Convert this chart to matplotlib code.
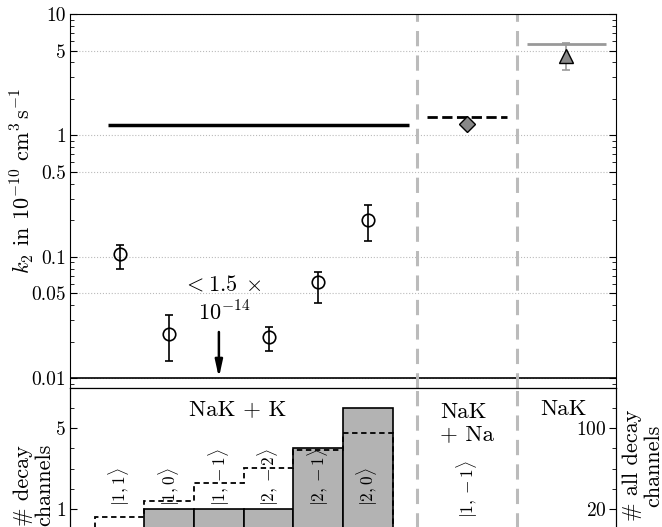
import matplotlib
matplotlib.use("Agg")
import matplotlib.pyplot as plt
from matplotlib.ticker import FixedLocator, MultipleLocator, NullFormatter, NullLocator

plt.rcParams["font.family"] = "serif"
plt.rcParams["font.serif"] = ["cmr10", "DejaVu Serif"]
plt.rcParams["mathtext.fontset"] = "cm"
plt.rcParams["axes.formatter.use_mathtext"] = True
plt.rcParams["axes.unicode_minus"] = False

# ============================================
# Data
# ============================================

# NaK + K channels (top panel, measured k2 with asymmetric errors)
chan_x = [1, 2, 4, 5, 6]
chan_k2 = [0.106, 0.023, 0.0218, 0.0618, 0.201]
chan_hi = [0.125, 0.033, 0.0263, 0.0748, 0.267]
chan_lo = [0.0793, 0.0138, 0.0167, 0.0415, 0.135]

# upper limit channel
limit_x = 3
limit_from = 0.024
limit_to = 0.0101

# theory / universal rates
nak_k_rate = 1.22
nak_na_rate = 1.42
nak_na_meas = 1.24
nak_nak_rate = 5.68
nak_nak_meas = 4.52
nak_nak_hi = 5.78
nak_nak_lo = 3.46

# bottom panel
state_labels = [r"$|1,1\rangle$", r"$|1,0\rangle$", r"$|1,-1\rangle$",
                r"$|2,-2\rangle$", r"$|2,-1\rangle$", r"$|2,0\rangle$"]
bin_edges = [0.5, 1.5, 2.5, 3.5, 4.5, 5.5, 6.5]
decay_counts = [0, 1, 1, 1, 4, 6]
all_decay_counts = [12, 28, 46, 61, 78, 95]

# ============================================
# Figure
# ============================================

fig = plt.figure(figsize=(6.62, 5.27), dpi=100)

ax = fig.add_axes([0.1057, 0.2638, 0.8248, 0.7096])
axb = fig.add_axes([0.1057, -0.0038, 0.8248, 0.2676])

# ---------------- top panel ----------------
ax.set_yscale("log")
ax.set_xlim(0, 11)
ax.set_ylim(0.0083, 10)

ax.yaxis.set_major_locator(FixedLocator([0.01, 0.05, 0.1, 0.5, 1, 5, 10]))
ax.set_yticklabels(["0.01", "0.05", "0.1", "0.5", "1", "5", "10"])
ax.yaxis.set_minor_formatter(NullFormatter())
ax.xaxis.set_major_locator(NullLocator())
ax.tick_params(axis="y", which="both", direction="in", right=True, labelsize=14, pad=3)
ax.tick_params(axis="y", which="major", length=5)
ax.tick_params(axis="y", which="minor", length=3)
ax.grid(axis="y", which="major", color="#bbbbbb", linestyle=":", linewidth=0.8)

ax.axhline(0.01, color="black", linewidth=1.2)

ax.hlines(nak_k_rate, 0.77, 6.83, color="black", linewidth=2.5)
ax.hlines(nak_na_rate, 7.2, 8.8, color="black", linewidth=2, linestyle="--")
ax.hlines(nak_nak_rate, 9.2, 10.8, color="#999999", linewidth=2)

err_lo = [k - lo for k, lo in zip(chan_k2, chan_lo)]
err_hi = [hi - k for k, hi in zip(chan_k2, chan_hi)]
ax.errorbar(chan_x, chan_k2, yerr=[err_lo, err_hi], fmt="o", color="black",
            mfc="none", mec="black", ms=9, mew=1.2, elinewidth=1.2,
            capsize=3, capthick=1.2)

ax.plot([8], [nak_na_meas], "D", color="#888888", mec="black", ms=8, mew=1)

ax.errorbar([10], [nak_nak_meas],
            yerr=[[nak_nak_meas - nak_nak_lo], [nak_nak_hi - nak_nak_meas]],
            fmt="none", ecolor="#999999", elinewidth=1.2, capsize=3, capthick=1.2)
ax.plot([10], [nak_nak_meas], "^", color="#888888", mec="black", ms=10, mew=1)

ax.annotate("", xy=(limit_x, limit_to), xytext=(limit_x, limit_from),
            arrowprops=dict(arrowstyle="-|>,head_length=1.0,head_width=0.22",
                            color="black", lw=1.8, shrinkA=0, shrinkB=0))
ax.text(3.08, 0.0596, r"$<1.5\;\times$", ha="center", va="center", fontsize=16)
ax.text(3.1, 0.0345, r"$10^{-14}$", ha="center", va="center", fontsize=16)

ax.set_ylabel(r"$k_2$ in $10^{-10}$ cm$^3\,$s$^{-1}$", fontsize=16)
ax.yaxis.set_label_coords(-0.062, 0.553)

for xv in [7, 9]:
    ax.axvline(xv, color="#bbbbbb", linewidth=2.2, linestyle=(0, (5, 3)))
    axb.axvline(xv, color="#bbbbbb", linewidth=2.2, linestyle=(0, (5, 3)))

# ---------------- bottom panel ----------------
axb.set_xlim(0, 11)
axb.set_ylim(0, 7)
axb.xaxis.set_major_locator(NullLocator())
axb.yaxis.set_major_locator(FixedLocator([1, 5]))
axb.yaxis.set_minor_locator(MultipleLocator(1))
axb.tick_params(axis="y", which="both", direction="in", labelsize=14, pad=3)
axb.tick_params(axis="y", which="major", length=5)
axb.tick_params(axis="y", which="minor", length=3)

for i, c in enumerate(decay_counts):
    if c > 0:
        axb.bar((bin_edges[i] + bin_edges[i + 1]) / 2, c, width=1,
                facecolor="#b3b3b3", edgecolor="black", linewidth=1.2)

axr = axb.twinx()
axr.set_ylim(0, 140)
axr.yaxis.set_major_locator(FixedLocator([20, 100]))
axr.yaxis.set_minor_locator(MultipleLocator(20))
axr.tick_params(axis="y", which="both", direction="in", labelsize=14, pad=-7)
axr.tick_params(axis="y", which="major", length=5)
axr.tick_params(axis="y", which="minor", length=3)
for lab in axr.get_yticklabels():
    lab.set_horizontalalignment("right")
axr.stairs(all_decay_counts, bin_edges, color="black", linewidth=1.3,
           linestyle=(0, (3, 2)), baseline=0)

for i, lab in enumerate(state_labels):
    axb.text(i + 1, 1.15, lab, rotation=90, ha="center", va="bottom", fontsize=12.5)
axb.text(8, 2.0, r"$|1,-1\rangle$", rotation=90, ha="center", va="center", fontsize=12.5)

axb.text(3.38, 5.95, "NaK + K", ha="center", va="center", fontsize=16.5)
axb.text(7.45, 5.25, "NaK\n+ Na", ha="left", va="center", fontsize=16.5,
         multialignment="left", linespacing=1.2)
axb.text(9.95, 5.95, "NaK", ha="center", va="center", fontsize=16.5)

axb.set_ylabel("# decay\nchannels", fontsize=16, linespacing=1.12)
axb.yaxis.set_label_coords(-0.029, 0.31)
axr.set_ylabel("# all decay\nchannels", fontsize=16, linespacing=1.12)
axr.yaxis.set_label_coords(1.011, 0.45)

fig.savefig("out.png", dpi=100)
